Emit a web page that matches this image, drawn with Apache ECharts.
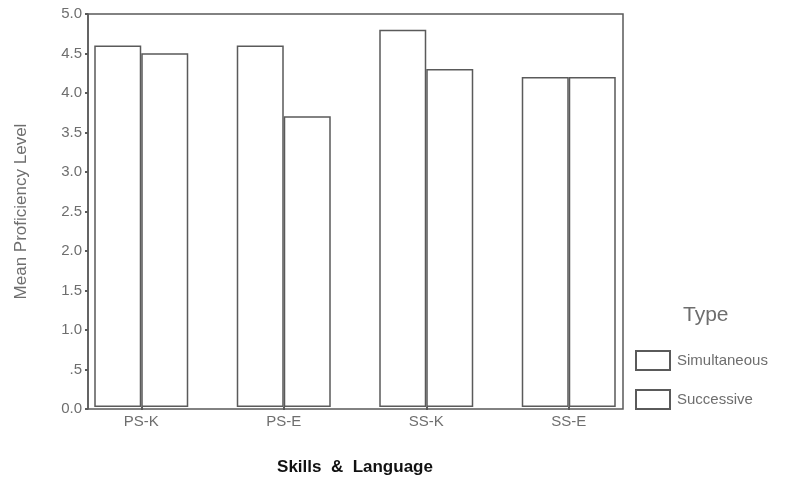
<!DOCTYPE html>
<html><head><meta charset="utf-8">
<script src="https://cdn.jsdelivr.net/npm/echarts@6/dist/echarts.min.js"></script>
<style>html,body{margin:0;padding:0;background:#fff}#c{width:788px;height:481px}</style>
</head><body><div id="c"></div>
<script>
var categories = ['PS-K', 'PS-E', 'SS-K', 'SS-E'];
var simultaneous = [4.6, 4.6, 4.8, 4.2];
var successive = [4.5, 3.7, 4.3, 4.2];
var yTicks = ['0.0', '.5', '1.0', '1.5', '2.0', '2.5', '3.0', '3.5', '4.0', '4.5', '5.0'];

var chart = echarts.init(document.getElementById('c'));
var gray = '#6e6e6e';
var barStyle = {color: '#fff', borderColor: '#5a5a5a', borderWidth: 1.5};
chart.setOption({
  animation: false,
  backgroundColor: '#fff',
  grid: [
    {left: 88, right: 165, top: 14, bottom: 72, show: true, borderColor: '#5a5a5a', borderWidth: 1.5, backgroundColor: 'transparent'},
    {left: 70, right: 148, top: 14, bottom: 72}
  ],
  xAxis: [
    {gridIndex: 0, type: 'category', data: categories, show: false},
    {gridIndex: 1, type: 'category', data: categories,
     axisLine: {show: false},
     axisTick: {show: true, alignWithLabel: true, length: 3, lineStyle: {color: '#5a5a5a', width: 2}},
     axisLabel: {color: gray, fontSize: 15, fontFamily: 'Liberation Sans', margin: 7},
     name: 'Skills  &  Language', nameLocation: 'middle', nameGap: 52,
     nameTextStyle: {color: '#111', fontSize: 17, fontWeight: 'bold', fontFamily: 'Liberation Sans'}}
  ],
  yAxis: [
    {gridIndex: 0, type: 'value', min: 0, max: 5, interval: 0.5,
     axisLine: {show: true, lineStyle: {color: '#5a5a5a', width: 1.5}},
     axisTick: {show: true, length: 3, lineStyle: {color: '#5a5a5a', width: 2}},
     splitLine: {show: false},
     axisLabel: {color: gray, fontSize: 15, fontFamily: 'Liberation Sans', margin: 6,
       formatter: function (v) { return yTicks[Math.round(v * 2)]; }},
     name: 'Mean Proficiency Level', nameLocation: 'middle', nameGap: 58,
     nameTextStyle: {color: gray, fontSize: 17, fontFamily: 'Liberation Sans'}},
    {gridIndex: 1, type: 'value', min: 0, max: 5, show: false}
  ],
  legend: {
    orient: 'vertical', left: 630, top: 345, itemWidth: 34, itemHeight: 19, itemGap: 18,
    icon: 'rect',
    textStyle: {color: gray, fontSize: 15, fontFamily: 'Liberation Sans', padding: [0, 0, 0, 2]},
    data: ['Simultaneous', 'Successive']
  },
  graphic: [
    {type: 'text', left: 683, top: 305, style: {text: 'Type', fill: gray, fontSize: 21, fontFamily: 'Liberation Sans'}}
  ],
  series: [
    {name: 'Simultaneous', type: 'bar', xAxisIndex: 1, yAxisIndex: 1, data: simultaneous,
     barWidth: 47, barGap: '0%', itemStyle: barStyle},
    {name: 'Successive', type: 'bar', xAxisIndex: 1, yAxisIndex: 1, data: successive,
     barWidth: 47, barGap: '0%', itemStyle: barStyle}
  ]
});
</script></body></html>
